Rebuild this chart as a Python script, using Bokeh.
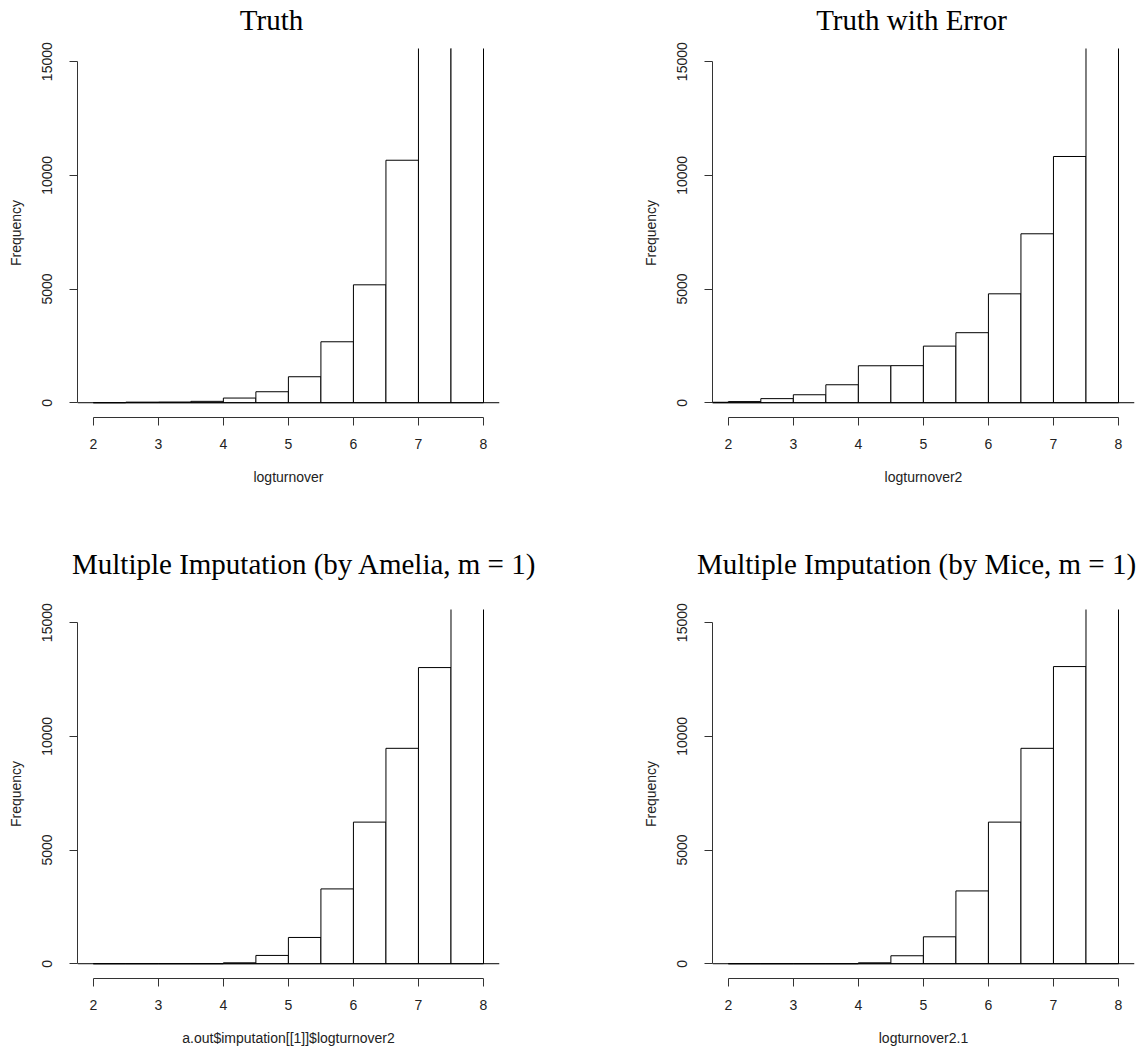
import math
from bokeh.plotting import figure
from bokeh.models import Range1d, FixedTicker, Span, LinearAxis, BasicTickFormatter
from bokeh.layouts import column, row
from bokeh.embed import file_html
from bokeh.resources import INLINE

# ---- data ----
breaks_truth = [2.0, 2.5, 3.0, 3.5, 4.0, 4.5, 5.0, 5.5, 6.0, 6.5, 7.0, 7.5, 8.0]
counts_truth = [0, 25, 30, 60, 205, 483, 1143, 2681, 5186, 10665, 17800, 16700]

breaks_error = [1.5, 2.0, 2.5, 3.0, 3.5, 4.0, 4.5, 5.0, 5.5, 6.0, 6.5, 7.0, 7.5, 8.0]
counts_error = [20, 50, 180, 350, 790, 1625, 1630, 2490, 3080, 4790, 7430, 10830, 21700]

breaks_amelia = [2.0, 2.5, 3.0, 3.5, 4.0, 4.5, 5.0, 5.5, 6.0, 6.5, 7.0, 7.5, 8.0]
counts_amelia = [0, 0, 0, 0, 40, 365, 1155, 3290, 6228, 9474, 13026, 21400]

breaks_mice = [2.0, 2.5, 3.0, 3.5, 4.0, 4.5, 5.0, 5.5, 6.0, 6.5, 7.0, 7.5, 8.0]
counts_mice = [0, 0, 0, 0, 40, 350, 1184, 3202, 6228, 9474, 13070, 21450]

x_ticks = [2, 3, 4, 5, 6, 7, 8]
y_ticks = [0, 5000, 10000, 15000]

titles = ["Truth", "Truth with Error",
          "Multiple Imputation (by Amelia, m = 1)", "Multiple Imputation (by Mice, m = 1)"]
x_labels = ["logturnover", "logturnover2", "a.out$imputation[[1]]$logturnover2", "logturnover2.1"]
y_label = "Frequency"

SANS = "Liberation Sans"
SERIF = "Liberation Serif"

# ---- layout constants ----
FRAME_W, FRAME_H = 422, 369
X0, X1 = 1.757, 8.246
Y0, Y1 = -650, 15580


def panel(title, xlabel, breaks, counts, title_center, title_standoff, bottom, right):
    p = figure(frame_width=FRAME_W, frame_height=FRAME_H,
               x_range=Range1d(X0, X1), y_range=Range1d(Y0, Y1),
               output_backend="svg", toolbar_location=None,
               min_border_left=77, min_border_right=right,
               min_border_top=0, min_border_bottom=bottom)
    p.outline_line_color = None
    p.grid.visible = False
    p.background_fill_color = "white"
    p.border_fill_color = "white"

    p.quad(left=breaks[:-1], right=breaks[1:], bottom=0, top=counts,
           fill_color="white", line_color="black", line_width=1)
    p.add_layout(Span(location=0, dimension="width", line_color="black", line_width=1))

    xa = p.xaxis[0]
    xa.ticker = FixedTicker(ticks=x_ticks)
    xa.bounds = (x_ticks[0], x_ticks[-1])
    xa.axis_label = xlabel
    ya = p.yaxis[0]
    ya.ticker = FixedTicker(ticks=y_ticks)
    ya.formatter = BasicTickFormatter(use_scientific=False)
    ya.bounds = (y_ticks[0], y_ticks[-1])
    ya.axis_label = y_label
    ya.major_label_orientation = "parallel"

    for ax in (xa, ya):
        ax.axis_line_color = "#333333"
        ax.major_tick_line_color = "#333333"
        ax.major_tick_out = 8
        ax.major_tick_in = 0
        ax.minor_tick_line_color = None
        ax.major_label_text_font = SANS
        ax.major_label_text_font_size = "14px"
        ax.major_label_text_color = "#222222"
        ax.axis_label_text_font = SANS
        ax.axis_label_text_font_size = "14px"
        ax.axis_label_text_font_style = "normal"
        ax.axis_label_text_color = "#222222"
    xa.major_label_standoff = 13
    xa.axis_label_standoff = 17
    ya.major_label_standoff = 17
    ya.axis_label_standoff = 16

    # main title, drawn as the single label of an invisible axis above the frame
    p.extra_x_ranges = {"title": Range1d(0, FRAME_W)}
    ta = LinearAxis(x_range_name="title", ticker=FixedTicker(ticks=[title_center]),
                    major_label_overrides={title_center: title},
                    axis_line_color=None, major_tick_line_color=None, minor_tick_line_color=None,
                    major_tick_out=0, major_tick_in=0, minor_tick_out=0, minor_tick_in=0,
                    major_label_standoff=title_standoff,
                    major_label_text_font=SERIF, major_label_text_font_size="29px",
                    major_label_text_font_style="normal", major_label_text_color="black")
    p.add_layout(ta, "above")
    return p


p1 = panel(titles[0], x_labels[0], breaks_truth, counts_truth, 194, 13, 127, 136)
p2 = panel(titles[1], x_labels[1], breaks_error, counts_error, 199, 13, 127, 9)
p3 = panel(titles[2], x_labels[2], breaks_amelia, counts_amelia, 227, 30, 60, 136)
p4 = panel(titles[3], x_labels[3], breaks_mice, counts_mice, 204, 30, 60, 9)

layout = column(row(p1, p2), row(p3, p4))
open("out.html", "w").write(file_html(layout, INLINE))
